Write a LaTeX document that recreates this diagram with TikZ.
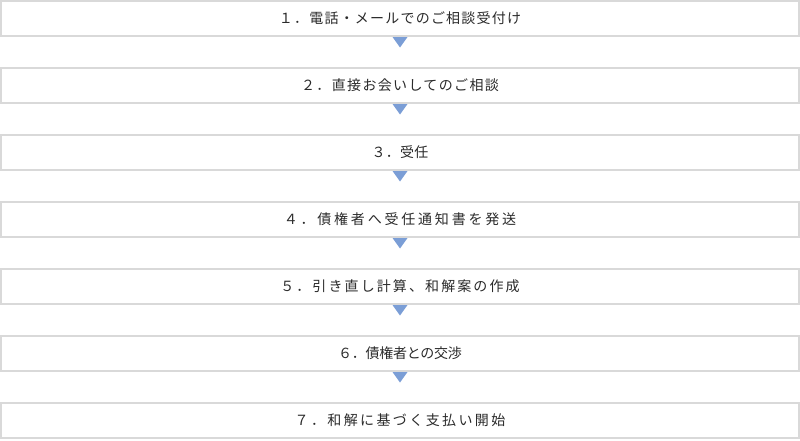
\documentclass[tikz,border=0pt]{standalone}
\usepackage{fontspec}
\usepackage{tikz}
\usetikzlibrary{positioning}
\newfontfamily\jpfont{Noto Sans CJK JP}
\definecolor{boxgray}{HTML}{D9D9D9}
\definecolor{tiblue}{HTML}{7B9ED6}
\definecolor{txtgray}{HTML}{2A2A2A}
\newcommand{\ls}[2]{{\jpfont\addfontfeature{LetterSpace=#1}#2}}

\begin{document}
\begin{tikzpicture}[x=1pt,y=1pt,node distance=32pt,
  stepbox/.style={draw=boxgray,line width=1.2pt,minimum width=798pt,minimum height=35pt,
    inner sep=0pt,outer sep=0pt,text=txtgray,font=\fontsize{14}{16}\selectfont},
  tri/.style={fill=tiblue}]
\useasboundingbox (0,0) rectangle (800,-440);
\node [stepbox] (s1) at (400,-18.5) {\ls{8.6}{１．電話・メールでのご相談受付け}};
\node [stepbox,below=of s1] (s2) {\ls{9.6}{２．直接お会いしてのご相談}};
\node [stepbox,below=of s2] (s3) {\ls{2}{３．受任}};
\node [stepbox,below=of s3] (s4) {\ls{20}{４．債権者へ受任通知書を発送}};
\node [stepbox,below=of s4] (s5) {\ls{15}{５．引き直し計算、和解案の作成}};
\node [stepbox,below=of s5] (s6) {\ls{-2}{６．債権者との交渉}};
\node [stepbox,below=of s6] (s7) {\ls{17}{７．和解に基づく支払い開始}};
\foreach \i in {1,...,6}
  \fill [tri] (s\i.south) ++(-7.5,-1) -- ++(15,0) -- ++(-7.5,-10.5) -- cycle;
\end{tikzpicture}
\end{document}
